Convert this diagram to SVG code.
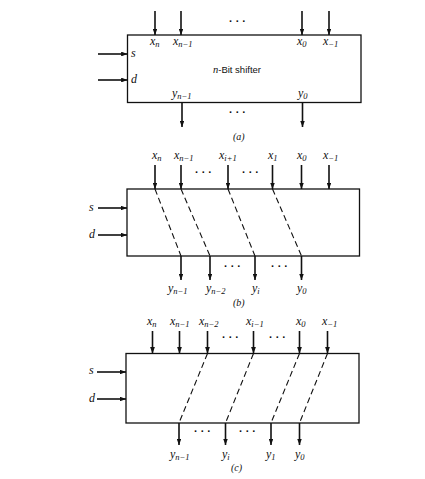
<svg xmlns="http://www.w3.org/2000/svg" width="425" height="479" viewBox="0 0 425 479">
<style>
.box{fill:none;stroke:#111;stroke-width:1.3}
.ar{stroke:#111;stroke-width:1.6;fill:none;marker-end:url(#ah)}
.ds{stroke:#111;stroke-width:1.1;fill:none;stroke-dasharray:6 3.5}
.m{font-family:"Liberation Serif",serif;font-style:italic;font-size:12px;fill:#111}
.s{font-size:8.5px}
.cap{font-family:"Liberation Serif",serif;font-style:italic;font-size:10px;fill:#111}
.dots{font-family:"Liberation Sans",sans-serif;font-weight:bold;font-size:11px;fill:#111;letter-spacing:3px}
.t{font-family:"Liberation Sans",sans-serif;font-size:9.5px;fill:#111}
</style>
<defs>
<marker id="ah" viewBox="0 0 8 6" refX="8" refY="3" markerWidth="4" markerHeight="3" markerUnits="strokeWidth" orient="auto">
<path d="M0,0 L8,3 L0,6 z" fill="#111"/>
</marker>
</defs>
<rect width="425" height="479" fill="#fff"/>

<g id="shifter-a">
<rect class="box" x="127.5" y="35" width="233.5" height="67.5"/>
<text class="t" x="237" y="73" text-anchor="middle"><tspan style="font-family:'Liberation Serif',serif;font-style:italic;font-size:10.5px">n</tspan>-Bit shifter</text>
<text class="m" x="150" y="45">x<tspan class="s" dy="2">n</tspan></text>
<text class="m" x="173" y="45">x<tspan class="s" dy="2">n−1</tspan></text>
<text class="m" x="297" y="45">x<tspan class="s" dy="2">0</tspan></text>
<text class="m" x="323" y="45">x<tspan class="s" dy="2">−1</tspan></text>
<text class="m" x="131" y="57">s</text>
<text class="m" x="131" y="83">d</text>
<text class="m" x="172" y="97">y<tspan class="s" dy="2">n−1</tspan></text>
<text class="m" x="298" y="97">y<tspan class="s" dy="2">0</tspan></text>
<text class="dots" x="229" y="25">···</text>
<text class="dots" x="229" y="116">···</text>
<text class="cap" x="233" y="140">(a)</text>
</g>

<g id="shifter-b">
<rect class="box" x="127" y="189" width="232.5" height="67"/>
<text class="m" x="152" y="159">x<tspan class="s" dy="2">n</tspan></text>
<text class="m" x="174" y="159">x<tspan class="s" dy="2">n−1</tspan></text>
<text class="m" x="219" y="159">x<tspan class="s" dy="2">i+1</tspan></text>
<text class="m" x="268" y="159">x<tspan class="s" dy="2">1</tspan></text>
<text class="m" x="297" y="159">x<tspan class="s" dy="2">0</tspan></text>
<text class="m" x="323" y="159">x<tspan class="s" dy="2">−1</tspan></text>
<text class="m" x="89" y="211">s</text>
<text class="m" x="89" y="238">d</text>
<text class="m" x="168" y="292">y<tspan class="s" dy="2">n−1</tspan></text>
<text class="m" x="206" y="292">y<tspan class="s" dy="2">n−2</tspan></text>
<text class="m" x="252" y="292">y<tspan class="s" dy="2">i</tspan></text>
<text class="m" x="297" y="292">y<tspan class="s" dy="2">0</tspan></text>
<text class="dots" x="195" y="176">···</text>
<text class="dots" x="242" y="176">···</text>
<text class="dots" x="224" y="270">···</text>
<text class="dots" x="271" y="270">···</text>
<text class="cap" x="233" y="306">(b)</text>
</g>

<g id="shifter-c">
<rect class="box" x="126" y="353.5" width="233" height="69.5"/>
<text class="m" x="147" y="325">x<tspan class="s" dy="2">n</tspan></text>
<text class="m" x="170" y="325">x<tspan class="s" dy="2">n−1</tspan></text>
<text class="m" x="199" y="325">x<tspan class="s" dy="2">n−2</tspan></text>
<text class="m" x="246" y="325">x<tspan class="s" dy="2">i−1</tspan></text>
<text class="m" x="296" y="325">x<tspan class="s" dy="2">0</tspan></text>
<text class="m" x="322" y="325">x<tspan class="s" dy="2">−1</tspan></text>
<text class="m" x="89" y="374">s</text>
<text class="m" x="89" y="402">d</text>
<text class="m" x="170" y="458">y<tspan class="s" dy="2">n−1</tspan></text>
<text class="m" x="222" y="458">y<tspan class="s" dy="2">i</tspan></text>
<text class="m" x="266" y="458">y<tspan class="s" dy="2">1</tspan></text>
<text class="m" x="295" y="458">y<tspan class="s" dy="2">0</tspan></text>
<text class="dots" x="222" y="341">···</text>
<text class="dots" x="269" y="341">···</text>
<text class="dots" x="194" y="435">···</text>
<text class="dots" x="239" y="435">···</text>
<text class="cap" x="231" y="471">(c)</text>
</g>

<g id="connectors">
<!-- (a) -->
<line class="ar" x1="155" y1="11" x2="155" y2="35"/>
<line class="ar" x1="181" y1="11" x2="181" y2="35"/>
<line class="ar" x1="302" y1="11" x2="302" y2="35"/>
<line class="ar" x1="329" y1="11" x2="329" y2="35"/>
<line class="ar" x1="98" y1="54" x2="127.5" y2="54"/>
<line class="ar" x1="98" y1="80" x2="127.5" y2="80"/>
<line class="ar" x1="182" y1="102.5" x2="182" y2="127"/>
<line class="ar" x1="302.5" y1="102.5" x2="302.5" y2="127"/>
<!-- (b) -->
<line class="ar" x1="155" y1="165" x2="155" y2="189"/>
<line class="ar" x1="181" y1="165" x2="181" y2="189"/>
<line class="ar" x1="228" y1="165" x2="228" y2="189"/>
<line class="ar" x1="272.5" y1="165" x2="272.5" y2="189"/>
<line class="ar" x1="301.5" y1="165" x2="301.5" y2="189"/>
<line class="ar" x1="329" y1="165" x2="329" y2="189"/>
<line class="ar" x1="98" y1="208" x2="127" y2="208"/>
<line class="ar" x1="98" y1="235" x2="127" y2="235"/>
<path class="ds" d="M155,189 L181,256 M181,189 L210,256 M228,189 L255,256 M272.5,189 L301.5,256"/>
<line class="ar" x1="181" y1="256" x2="181" y2="280"/>
<line class="ar" x1="210" y1="256" x2="210" y2="280"/>
<line class="ar" x1="255" y1="256" x2="255" y2="280"/>
<line class="ar" x1="301.5" y1="256" x2="301.5" y2="280"/>
<!-- (c) -->
<line class="ar" x1="152.5" y1="331" x2="152.5" y2="353.5"/>
<line class="ar" x1="179.5" y1="331" x2="179.5" y2="353.5"/>
<line class="ar" x1="207.5" y1="331" x2="207.5" y2="353.5"/>
<line class="ar" x1="253.5" y1="331" x2="253.5" y2="353.5"/>
<line class="ar" x1="299.5" y1="331" x2="299.5" y2="353.5"/>
<line class="ar" x1="327.5" y1="331" x2="327.5" y2="353.5"/>
<line class="ar" x1="97" y1="372" x2="126" y2="372"/>
<line class="ar" x1="97" y1="399" x2="126" y2="399"/>
<path class="ds" d="M207.5,353.5 L179,423 M253.5,353.5 L225.5,423 M299.5,353.5 L271,423 M327.5,353.5 L299.5,423"/>
<line class="ar" x1="179" y1="423" x2="179" y2="445"/>
<line class="ar" x1="225.5" y1="423" x2="225.5" y2="445"/>
<line class="ar" x1="271" y1="423" x2="271" y2="445"/>
<line class="ar" x1="299.5" y1="423" x2="299.5" y2="445"/>
</g>
</svg>
